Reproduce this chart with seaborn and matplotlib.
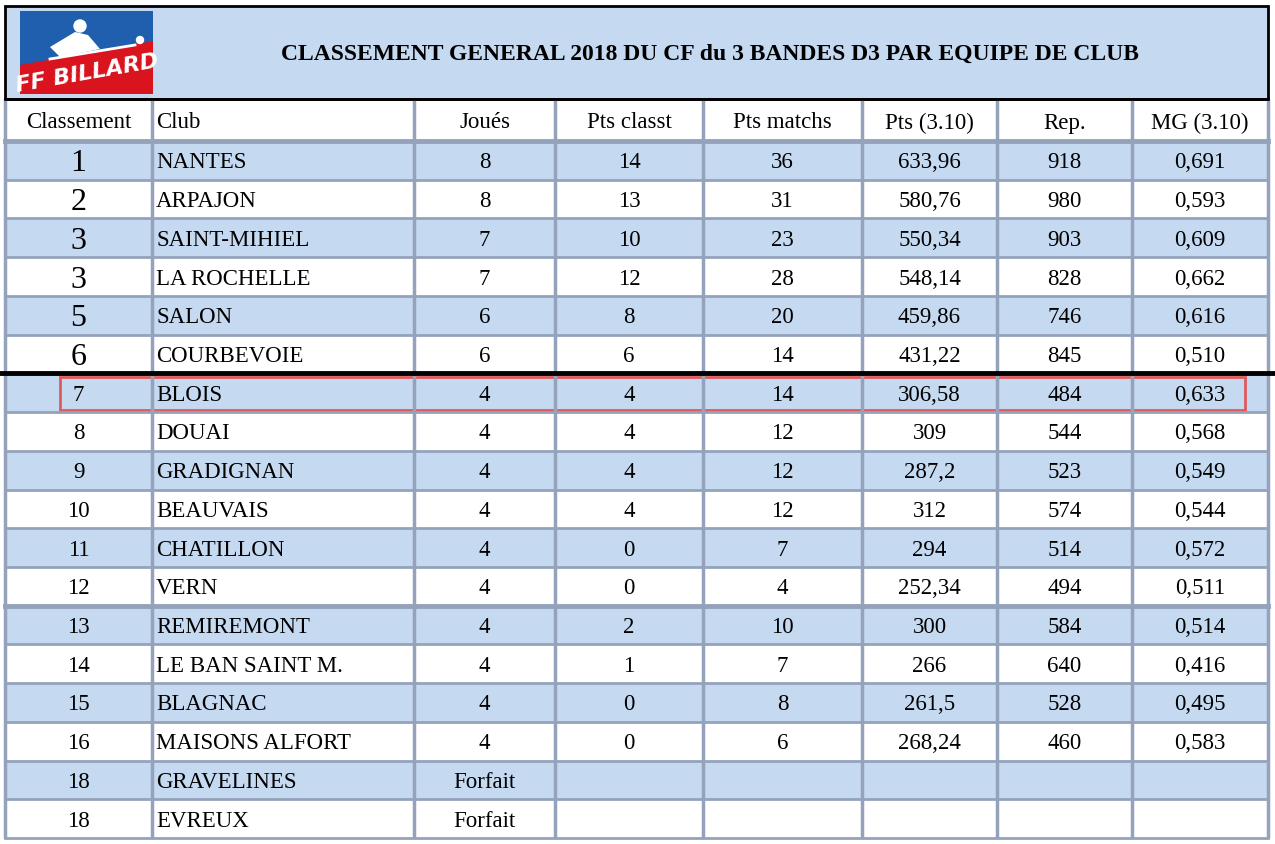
import matplotlib
matplotlib.use('Agg')
import matplotlib.pyplot as plt
from matplotlib.colors import ListedColormap
from matplotlib.patches import Rectangle, Polygon
import numpy as np
import seaborn as sns

title = 'CLASSEMENT GENERAL 2018 DU CF du 3 BANDES D3 PAR EQUIPE DE CLUB'
headers = ['Classement', 'Club', 'Joués', 'Pts classt', 'Pts matchs', 'Pts (3.10)', 'Rep.', 'MG (3.10)']
ranks = ['1', '2', '3', '3', '5', '6', '7', '8', '9', '10', '11', '12', '13', '14', '15', '16', '18', '18']
clubs = ['NANTES', 'ARPAJON', 'SAINT-MIHIEL', 'LA ROCHELLE', 'SALON', 'COURBEVOIE', 'BLOIS', 'DOUAI',
         'GRADIGNAN', 'BEAUVAIS', 'CHATILLON', 'VERN', 'REMIREMONT', 'LE BAN SAINT M.', 'BLAGNAC',
         'MAISONS ALFORT', 'GRAVELINES', 'EVREUX']
joues = ['8', '8', '7', '7', '6', '6', '4', '4', '4', '4', '4', '4', '4', '4', '4', '4', 'Forfait', 'Forfait']
pts_classt = ['14', '13', '10', '12', '8', '6', '4', '4', '4', '4', '0', '0', '2', '1', '0', '0', '', '']
pts_matchs = ['36', '31', '23', '28', '20', '14', '14', '12', '12', '12', '7', '4', '10', '7', '8', '6', '', '']
pts_310 = ['633,96', '580,76', '550,34', '548,14', '459,86', '431,22', '306,58', '309', '287,2', '312',
           '294', '252,34', '300', '266', '261,5', '268,24', '', '']
rep = ['918', '980', '903', '828', '746', '845', '484', '544', '523', '574', '514', '494', '584', '640',
       '528', '460', '', '']
mg_310 = ['0,691', '0,593', '0,609', '0,662', '0,616', '0,510', '0,633', '0,568', '0,549', '0,544',
          '0,572', '0,511', '0,514', '0,416', '0,495', '0,583', '', '']

W, H = 1275, 845
col_edges = [5, 152, 414, 555, 703, 862, 997, 1132, 1268]
top_title, top_head, top_rows, bottom = 7, 100, 142, 839
n = len(ranks)
row_h = (bottom - top_rows) / n
blue = '#c5d9f1'
grid = '#94a3bb'
serif = 'Liberation Serif'
fs = 16.5

fig = plt.figure(figsize=(W / 100, H / 100), dpi=100)

# row stripes via seaborn heatmap
stripes = np.array([[1 - (i % 2)] for i in range(n)])
hax = fig.add_axes([col_edges[0] / W, 1 - bottom / H, (col_edges[-1] - col_edges[0]) / W, (bottom - top_rows) / H])
sns.heatmap(stripes, ax=hax, cmap=ListedColormap(['white', blue]), cbar=False,
            xticklabels=False, yticklabels=False, vmin=0, vmax=1)
hax.set_axis_off()

ax = fig.add_axes([0, 0, 1, 1], zorder=2)
ax.set_xlim(0, W)
ax.set_ylim(H, 0)
ax.set_axis_off()
ax.patch.set_alpha(0)

# title band
ax.add_patch(Rectangle((col_edges[0], top_title), col_edges[-1] - col_edges[0], top_head - top_title,
                       facecolor=blue, edgecolor='black', lw=2))
ax.text(710, 54, title, ha='center', va='center', fontsize=17, fontweight='bold', family=serif)

# logo
ax.add_patch(Rectangle((20, 12), 133, 83, facecolor='#1f5fae', edgecolor='none'))
ax.add_patch(Polygon([(20, 66), (153, 42), (153, 95), (20, 95)], facecolor='#d9141f', edgecolor='none'))
ax.text(87, 74, 'FF BILLARD', ha='center', va='center', color='white', fontsize=16,
        fontweight='bold', style='italic', family='DejaVu Sans', rotation=10, clip_on=True)
ax.add_patch(plt.Circle((80, 27), 6, color='white'))
ax.add_patch(Polygon([(50, 48), (75, 33), (88, 36), (100, 50), (60, 58)], facecolor='white', edgecolor='none'))
ax.plot([50, 135], [60, 46], color='white', lw=2)
ax.add_patch(plt.Circle((140, 41), 3.5, color='white'))


def cx(j):
    return (col_edges[j] + col_edges[j + 1]) / 2


for j, h in enumerate(headers):
    if j == 1:
        ax.text(col_edges[1] + 4, top_head + 23, h, ha='left', va='center', fontsize=fs, family=serif)
    else:
        ax.text(cx(j), top_head + 23, h, ha='center', va='center', fontsize=fs, family=serif)

cols = [joues, pts_classt, pts_matchs, pts_310, rep, mg_310]
for i in range(n):
    yc = top_rows + (i + 0.5) * row_h + 1.5
    big = i < 6
    ax.text(cx(0), yc + (1 if big else 0), ranks[i], ha='center', va='center',
            fontsize=23 if big else fs, family=serif)
    ax.text(col_edges[1] + 4, yc, clubs[i], ha='left', va='center', fontsize=fs, family=serif)
    for j, c in enumerate(cols):
        ax.text(cx(j + 2), yc, c[i], ha='center', va='center', fontsize=fs, family=serif)

# grid lines
for x in col_edges:
    ax.plot([x, x], [top_head, bottom], color=grid, lw=2.5, solid_capstyle='butt')
for i in range(n + 1):
    y = top_rows + i * row_h
    ax.plot([col_edges[0], col_edges[-1]], [y, y], color=grid, lw=2 if i not in (0, 12) else 3.5)
ax.plot([col_edges[0], col_edges[-1]], [top_head, top_head], color='black', lw=2)
ax.plot([0, W], [top_rows + 6 * row_h, top_rows + 6 * row_h], color='black', lw=3.5)

# highlight box around BLOIS
y7 = top_rows + 6 * row_h
ax.add_patch(Rectangle((60, y7 + 4), 1185, row_h - 6, fill=False, edgecolor='#e05a5a', lw=2))

fig.savefig('out.png', dpi=100)
